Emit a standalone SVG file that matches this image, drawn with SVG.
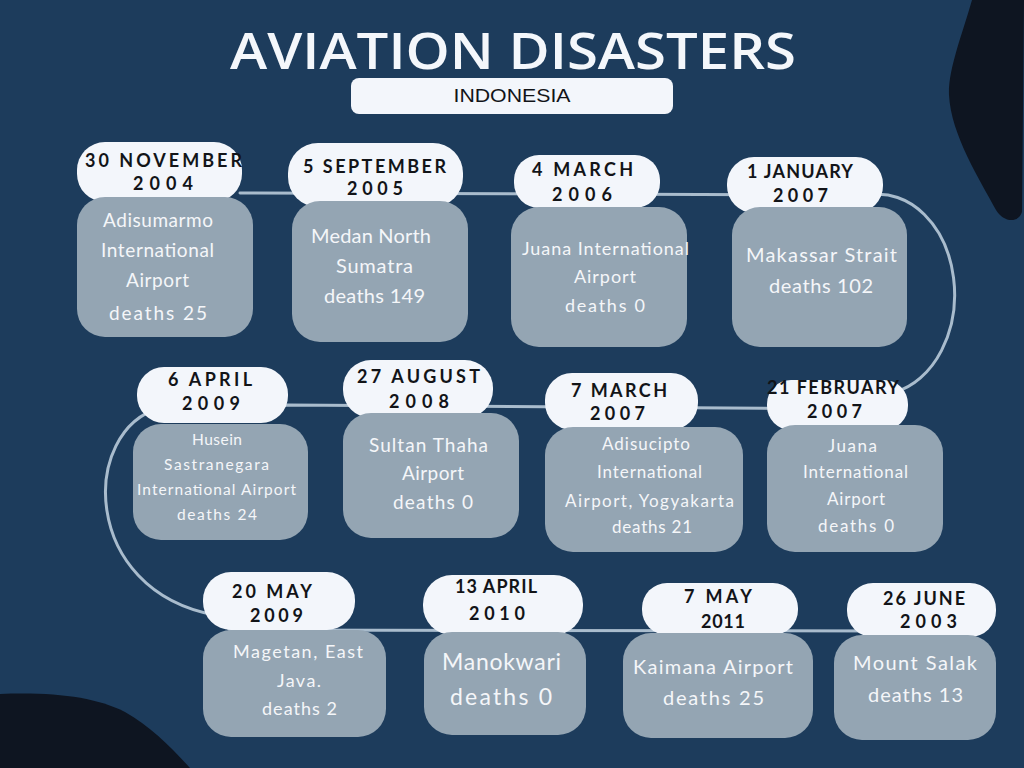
<svg xmlns="http://www.w3.org/2000/svg" width="1024" height="768" viewBox="0 0 1024 768">
<style>
.bg{fill:#1d3c5c}
.dark{fill:#0e1521}
.pill{fill:#f3f6fb}
.box{fill:#94a5b3}
.conn{fill:none;stroke:#a9bccd;stroke-width:3;stroke-linecap:round;stroke-linejoin:round}
.date{font-family:Lato,"Noto Sans",sans-serif;font-weight:700;font-size:18px;fill:#121418;text-anchor:middle}
.info{font-family:Lato,"Noto Sans",sans-serif;font-weight:400;fill:#f4f6f9;text-anchor:middle}
.title{font-family:"Open Sans","Noto Sans",sans-serif;font-weight:600;font-size:50px;fill:#f4f7fb;text-anchor:middle}
.sub{font-family:"Liberation Sans",Arial,sans-serif;font-size:18px;fill:#121418;text-anchor:middle}
</style>
<rect class="bg" x="0" y="0" width="1024" height="768"/>
<path class="dark" d="M972 0 C962 35 948 70 949 95 C951 135 980 180 996 210 C1003 222 1018 224 1022 212 L1024 0 Z"/>
<path class="dark" d="M0 694 C55 692 95 697 125 712 C150 726 172 748 190 768 L0 768 Z"/>

<g id="title">
<text class="title" x="513" y="69" textLength="566" lengthAdjust="spacingAndGlyphs">AVIATION DISASTERS</text>
<rect class="pill" x="351" y="78" width="322" height="36" rx="8"/>
<text class="sub" x="512" y="102" textLength="117" lengthAdjust="spacingAndGlyphs">INDONESIA</text>
</g>

<g id="connectors">
<path class="conn" d="M240 193 L870 195 A76 100 0 0 1 895 392 L860 409 L287 405 L160 408 C80 430 80 590 215 615 L230 630 L900 631"/>
</g>

<g id="node-2004">
<rect class="pill" x="77" y="142" width="165" height="60" rx="28"/>
<rect class="box" x="77" y="197" width="176" height="140" rx="28"/>
<text class="date" x="163.5" y="167" textLength="157">30 NOVEMBER</text>
<text class="date" x="163" y="190" textLength="60">2004</text>
<text class="info" font-size="19" x="158" y="227" textLength="110">Adisumarmo</text>
<text class="info" font-size="19" x="157.5" y="257" textLength="113">International</text>
<text class="info" font-size="19" x="157.5" y="287" textLength="63">Airport</text>
<text class="info" font-size="19" x="158" y="320" textLength="98">deaths 25</text>
</g>

<g id="node-2005">
<rect class="pill" x="288" y="143" width="175" height="64" rx="30"/>
<rect class="box" x="292" y="201" width="176" height="141" rx="28"/>
<text class="date" x="374.5" y="173" textLength="143">5 SEPTEMBER</text>
<text class="date" x="375" y="195" textLength="56">2005</text>
<text class="info" font-size="20" x="371" y="243" textLength="120">Medan North</text>
<text class="info" font-size="20" x="374.5" y="273" textLength="77">Sumatra</text>
<text class="info" font-size="20" x="374.5" y="303" textLength="101">deaths 149</text>
</g>

<g id="node-2006">
<rect class="pill" x="514" y="155" width="146" height="53" rx="25"/>
<rect class="box" x="511" y="207" width="176" height="140" rx="28"/>
<text class="date" x="582.5" y="176" textLength="101">4 MARCH</text>
<text class="date" x="582" y="201" textLength="60">2006</text>
<text class="info" font-size="18" x="605.5" y="255" textLength="167">Juana International</text>
<text class="info" font-size="18" x="605" y="283" textLength="62">Airport</text>
<text class="info" font-size="18" x="605" y="312" textLength="80">deaths 0</text>
</g>

<g id="node-2007-jan">
<rect class="pill" x="727" y="157" width="156" height="56" rx="27"/>
<rect class="box" x="732" y="207" width="175" height="140" rx="28"/>
<text class="date" x="800" y="178" textLength="106">1 JANUARY</text>
<text class="date" x="800.5" y="202" textLength="55">2007</text>
<text class="info" font-size="20" x="821.5" y="262" textLength="151">Makassar Strait</text>
<text class="info" font-size="20" x="821" y="293" textLength="104">deaths 102</text>
</g>

<g id="node-2009-apr">
<rect class="pill" x="137" y="367" width="151" height="56" rx="27"/>
<rect class="box" x="133" y="424" width="175" height="116" rx="28"/>
<text class="date" x="210" y="386" textLength="84">6 APRIL</text>
<text class="date" x="211" y="410" textLength="58">2009</text>
<text class="info" font-size="15.5" x="217" y="445" textLength="50">Husein</text>
<text class="info" font-size="15.5" x="216.5" y="470" textLength="105">Sastranegara</text>
<text class="info" font-size="15.5" x="216.5" y="495" textLength="159">International Airport</text>
<text class="info" font-size="15.5" x="217" y="520" textLength="80">deaths 24</text>
</g>

<g id="node-2008">
<rect class="pill" x="343" y="360" width="150" height="58" rx="28"/>
<rect class="box" x="343" y="413" width="176" height="125" rx="28"/>
<text class="date" x="418.5" y="383" textLength="123">27 AUGUST</text>
<text class="date" x="419" y="408" textLength="60">2008</text>
<text class="info" font-size="19" x="428.5" y="452" textLength="119">Sultan Thaha</text>
<text class="info" font-size="19" x="433" y="480" textLength="62">Airport</text>
<text class="info" font-size="19" x="433" y="509" textLength="80">deaths 0</text>
</g>

<g id="node-2007-mar">
<rect class="pill" x="545" y="373" width="153" height="57" rx="27"/>
<rect class="box" x="545" y="427" width="198" height="125" rx="28"/>
<text class="date" x="619" y="397" textLength="96">7 MARCH</text>
<text class="date" x="617.5" y="420" textLength="55">2007</text>
<text class="info" font-size="17" x="646" y="450" textLength="88">Adisucipto</text>
<text class="info" font-size="17" x="649.5" y="478" textLength="105">International</text>
<text class="info" font-size="17" x="649.5" y="507" textLength="169">Airport, Yogyakarta</text>
<text class="info" font-size="17" x="652" y="533" textLength="80">deaths 21</text>
</g>

<g id="node-2007-feb">
<rect class="pill" x="767" y="380" width="141" height="50" rx="24"/>
<rect class="box" x="767" y="425" width="176" height="127" rx="28"/>
<text class="date" x="833" y="394" textLength="132">21 FEBRUARY</text>
<text class="date" x="834.5" y="418" textLength="55">2007</text>
<text class="info" font-size="17" x="852.5" y="452" textLength="49">Juana</text>
<text class="info" font-size="17" x="855.5" y="478" textLength="105">International</text>
<text class="info" font-size="17" x="856" y="505" textLength="58">Airport</text>
<text class="info" font-size="17" x="856" y="532" textLength="76">deaths 0</text>
</g>

<g id="node-2009-may">
<rect class="pill" x="203" y="572" width="152" height="58" rx="28"/>
<rect class="box" x="203" y="630" width="183" height="107" rx="28"/>
<text class="date" x="272" y="598" textLength="80">20 MAY</text>
<text class="date" x="276.5" y="622" textLength="53">2009</text>
<text class="info" font-size="18" x="298" y="658" textLength="130">Magetan, East</text>
<text class="info" font-size="18" x="299" y="687" textLength="44">Java.</text>
<text class="info" font-size="18" x="299.5" y="715" textLength="75">deaths 2</text>
</g>

<g id="node-2010">
<rect class="pill" x="423" y="575" width="160" height="60" rx="29"/>
<rect class="box" x="424" y="632" width="162" height="103" rx="28"/>
<text class="date" x="496" y="593" textLength="82">13 APRIL</text>
<text class="date" x="497" y="620" textLength="56">2010</text>
<text class="info" font-size="23" x="501.5" y="670" textLength="119">Manokwari</text>
<text class="info" font-size="23" x="501" y="705" textLength="102">deaths 0</text>
</g>

<g id="node-2011">
<rect class="pill" x="642" y="583" width="156" height="52" rx="25"/>
<rect class="box" x="623" y="633" width="190" height="105" rx="28"/>
<text class="date" x="718" y="603" textLength="68">7 MAY</text>
<text class="date" x="723" y="628" textLength="44">2011</text>
<text class="info" font-size="20" x="713" y="674" textLength="160">Kaimana Airport</text>
<text class="info" font-size="20" x="713.5" y="705" textLength="101">deaths 25</text>
</g>

<g id="node-2003">
<rect class="pill" x="847" y="583" width="149" height="54" rx="26"/>
<rect class="box" x="834" y="635" width="162" height="105" rx="28"/>
<text class="date" x="924" y="605" textLength="82">26 JUNE</text>
<text class="date" x="928.5" y="628" textLength="57">2003</text>
<text class="info" font-size="20" x="915" y="670" textLength="124">Mount Salak</text>
<text class="info" font-size="20" x="915.5" y="702" textLength="95">deaths 13</text>
</g>
</svg>
